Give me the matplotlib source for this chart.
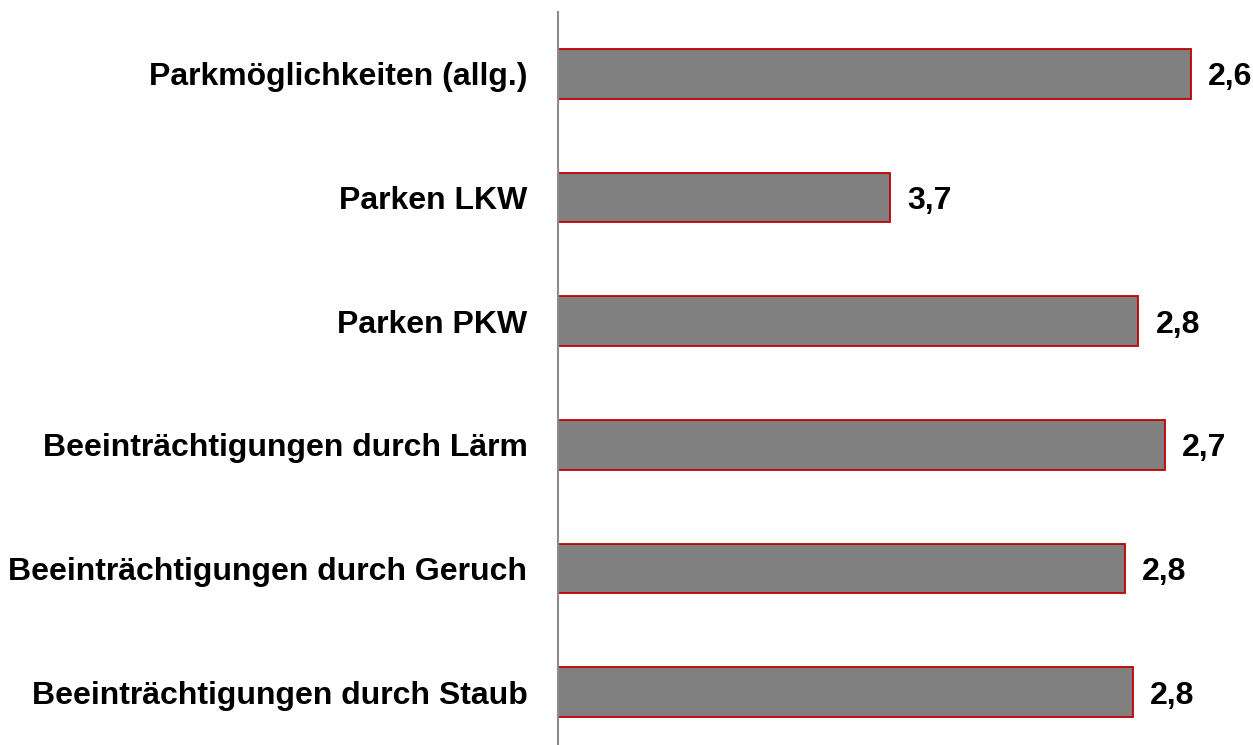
import numpy as np
import matplotlib.pyplot as plt

categories = ['Parkmöglichkeiten (allg.)', 'Parken LKW', 'Parken PKW',
              'Beeinträchtigungen durch Lärm', 'Beeinträchtigungen durch Geruch',
              'Beeinträchtigungen durch Staub']
scores = np.array([2.6, 3.74, 2.80, 2.70, 2.85, 2.82])
score_labels = ['2,6', '3,7', '2,8', '2,7', '2,8', '2,8']
scale_max = 5.0

plt.rcParams['font.family'] = ['Liberation Sans', 'DejaVu Sans']

fig = plt.figure(figsize=(12.53, 7.45), dpi=100)
ax = fig.add_axes([558/1253, -9/745, 1 - 558/1253, 742/745])

y = np.arange(len(categories))
lengths = scale_max - scores
ax.barh(y, lengths, height=0.4, color='#808080', edgecolor='#C00000', linewidth=1.3)
for yi, L, lab in zip(y, lengths, score_labels):
    ax.text(L + 0.065, yi, lab, va='center_baseline', ha='left', fontsize=23, fontweight='bold')

ax.set_ylim(len(categories) - 0.5, -0.5)
ax.set_xlim(0, 695/263.75)
ax.set_yticks(y)
ax.set_yticklabels(categories, fontsize=23, fontweight='bold')
ax.tick_params(axis='y', length=0, pad=22)
ax.set_xticks([])
for s in ['top', 'right', 'bottom']:
    ax.spines[s].set_visible(False)
ax.spines['left'].set_color('#8c8c8c')
ax.spines['left'].set_linewidth(1.5)

fig.savefig('out.png', dpi=100)
